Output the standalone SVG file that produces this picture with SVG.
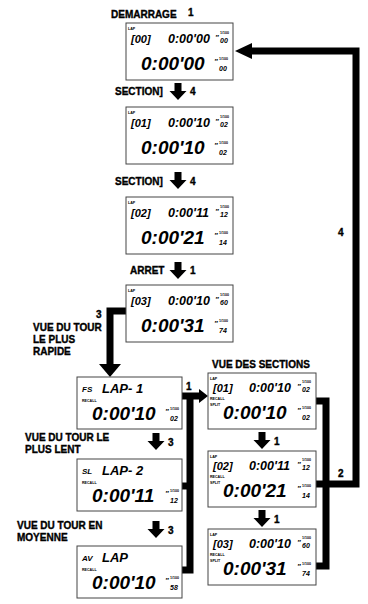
<svg xmlns="http://www.w3.org/2000/svg" width="368" height="604" viewBox="0 0 368 604">
<style>
.lbl{font-family:"Liberation Sans",Arial,sans-serif;font-weight:bold;font-size:10px;fill:#000;stroke:#000;stroke-width:0.35}
.box{fill:#fff;stroke:#444;stroke-width:1}
.lcd{font-family:"Liberation Sans",Arial,sans-serif;font-style:italic;font-weight:bold;fill:#000}
.s{font-size:12.5px}
.b{font-size:19px}
.m{font-size:7px}
.q{font-size:8px}
.t{font-family:"Liberation Sans",Arial,sans-serif;font-weight:bold;font-size:3.6px;fill:#000}
.br{font-size:11px}
.con{fill:none;stroke:#000;stroke-width:7;stroke-linejoin:miter}
.ah{fill:#000}
</style>
<defs>
<path id="down" d="M-3.5,0 H3.5 V8 H8.5 L0,17 L-8.5,8 H-3.5 Z"/>
</defs>

<g id="labels">
<text class="lbl" x="111" y="18">DEMARRAGE</text><text class="lbl" x="188" y="16">1</text>
<text class="lbl" x="115" y="95">SECTION]</text><text class="lbl" x="190" y="95">4</text>
<text class="lbl" x="115" y="185">SECTION]</text><text class="lbl" x="190" y="185">4</text>
<text class="lbl" x="130" y="274">ARRET</text><text class="lbl" x="190" y="274">1</text>
<text class="lbl" x="96" y="318">3</text>
<text class="lbl" x="33" y="331">VUE DU TOUR</text>
<text class="lbl" x="33" y="343">LE PLUS</text>
<text class="lbl" x="33" y="355">RAPIDE</text>
<text class="lbl" x="25" y="441">VUE DU TOUR LE</text>
<text class="lbl" x="25" y="453">PLUS LENT</text>
<text class="lbl" x="17" y="529">VUE DU TOUR EN</text>
<text class="lbl" x="17" y="541">MOYENNE</text>
<text class="lbl" x="168" y="446">3</text>
<text class="lbl" x="168" y="534">3</text>
<text class="lbl" x="212" y="368">VUE DES SECTIONS</text>
<text class="lbl" x="186" y="390">1</text>
<text class="lbl" x="274" y="445">1</text>
<text class="lbl" x="274" y="523">1</text>
<text class="lbl" x="338" y="236">4</text>
<text class="lbl" x="338" y="477">2</text>
</g>

<g id="connectors">
<use href="#down" x="178" y="83"/>
<use href="#down" x="178" y="172"/>
<use href="#down" x="178" y="262"/>
<use href="#down" x="156" y="433"/>
<use href="#down" x="156" y="521"/>
<use href="#down" x="262" y="432"/>
<use href="#down" x="262" y="510"/>
<polyline class="con" points="250,51 356,51 356,484 316,484"/>
<polygon class="ah" points="235,51 252,43 252,59"/>
<polyline class="con" points="316,401 326,401 326,566 316,566"/>
<polyline class="con" points="127,311 110,311 110,365"/>
<polygon class="ah" points="99,364 121,364 110,377"/>
<polyline class="con" points="182,396 201,396"/>
<polygon class="ah" points="199,389 208,396 199,403"/>
<polyline class="con" points="182,486 190,486"/>
<polyline class="con" points="182,570 190,570 190,396"/>
</g>

<g id="n-start" transform="translate(126,23)">
<rect class="box" width="107" height="57"/>
<text class="t" x="2" y="7">LAP</text>
<text class="lcd br" x="5" y="20">[00]</text>
<text class="lcd s" x="42" y="20">0:00'00</text>
<text class="lcd q" x="89" y="17">"</text><text class="t" x="94" y="11">1/100</text><text class="lcd m" x="94" y="20">00</text>
<text class="lcd b" x="15" y="47">0:00'00</text>
<text class="lcd q" x="88" y="41">"</text><text class="t" x="93" y="37">1/100</text><text class="lcd m" x="93" y="48">00</text>
</g>
<g id="n-sec1" transform="translate(126,107)">
<rect class="box" width="107" height="57"/>
<text class="t" x="2" y="7">LAP</text>
<text class="lcd br" x="5" y="20">[01]</text>
<text class="lcd s" x="42" y="20">0:00'10</text>
<text class="lcd q" x="89" y="17">"</text><text class="t" x="94" y="11">1/100</text><text class="lcd m" x="94" y="20">02</text>
<text class="lcd b" x="15" y="47">0:00'10</text>
<text class="lcd q" x="88" y="41">"</text><text class="t" x="93" y="37">1/100</text><text class="lcd m" x="93" y="48">02</text>
</g>
<g id="n-sec2" transform="translate(126,197)">
<rect class="box" width="107" height="57"/>
<text class="t" x="2" y="7">LAP</text>
<text class="lcd br" x="5" y="20">[02]</text>
<text class="lcd s" x="42" y="20">0:00'11</text>
<text class="lcd q" x="89" y="17">"</text><text class="t" x="94" y="11">1/100</text><text class="lcd m" x="94" y="20">12</text>
<text class="lcd b" x="15" y="47">0:00'21</text>
<text class="lcd q" x="88" y="41">"</text><text class="t" x="93" y="37">1/100</text><text class="lcd m" x="93" y="48">14</text>
</g>
<g id="n-stop" transform="translate(126,285)">
<rect class="box" width="107" height="57"/>
<text class="t" x="2" y="7">LAP</text>
<text class="lcd br" x="5" y="20">[03]</text>
<text class="lcd s" x="42" y="20">0:00'10</text>
<text class="lcd q" x="89" y="17">"</text><text class="t" x="94" y="11">1/100</text><text class="lcd m" x="94" y="20">60</text>
<text class="lcd b" x="15" y="47">0:00'31</text>
<text class="lcd q" x="88" y="41">"</text><text class="t" x="93" y="37">1/100</text><text class="lcd m" x="93" y="48">74</text>
</g>

<g id="n-fast" transform="translate(77,377)">
<rect class="box" width="105" height="52"/>
<text class="lcd" x="5" y="15" style="font-size:8px">FS</text>
<text class="lcd" x="25" y="16" style="font-size:13px">LAP- 1</text>
<text class="t" x="5" y="25">RECALL</text>
<text class="lcd b" x="15" y="43">0:00'10</text>
<text class="lcd q" x="88" y="37">"</text><text class="t" x="93" y="33">1/100</text><text class="lcd m" x="93" y="44">02</text>
</g>
<g id="n-slow" transform="translate(77,459)">
<rect class="box" width="105" height="52"/>
<text class="lcd" x="5" y="15" style="font-size:8px">SL</text>
<text class="lcd" x="25" y="16" style="font-size:13px">LAP- 2</text>
<text class="t" x="5" y="25">RECALL</text>
<text class="lcd b" x="15" y="43">0:00'11</text>
<text class="lcd q" x="88" y="37">"</text><text class="t" x="93" y="33">1/100</text><text class="lcd m" x="93" y="44">12</text>
</g>
<g id="n-avg" transform="translate(77,546)">
<rect class="box" width="105" height="52"/>
<text class="lcd" x="5" y="15" style="font-size:8px">AV</text>
<text class="lcd" x="25" y="16" style="font-size:13px">LAP</text>
<text class="t" x="5" y="25">RECALL</text>
<text class="lcd b" x="15" y="43">0:00'10</text>
<text class="lcd q" x="88" y="37">"</text><text class="t" x="93" y="33">1/100</text><text class="lcd m" x="93" y="44">58</text>
</g>

<g id="n-split1" transform="translate(208,373)">
<rect class="box" width="108" height="56"/>
<text class="t" x="2" y="7">LAP</text>
<text class="lcd br" x="5" y="19">[01]</text>
<text class="lcd s" x="41" y="19">0:00'10</text>
<text class="lcd q" x="89" y="16">"</text><text class="t" x="94" y="10">1/100</text><text class="lcd m" x="94" y="19">02</text>
<text class="t" x="2" y="27">RECALL</text><text class="t" x="2" y="33">SPLIT</text>
<text class="lcd b" x="15" y="46">0:00'10</text>
<text class="lcd q" x="89" y="40">"</text><text class="t" x="94" y="36">1/100</text><text class="lcd m" x="94" y="47">02</text>
</g>
<g id="n-split2" transform="translate(208,451)">
<rect class="box" width="108" height="56"/>
<text class="t" x="2" y="7">LAP</text>
<text class="lcd br" x="5" y="19">[02]</text>
<text class="lcd s" x="41" y="19">0:00'11</text>
<text class="lcd q" x="89" y="16">"</text><text class="t" x="94" y="10">1/100</text><text class="lcd m" x="94" y="19">12</text>
<text class="t" x="2" y="27">RECALL</text><text class="t" x="2" y="33">SPLIT</text>
<text class="lcd b" x="15" y="46">0:00'21</text>
<text class="lcd q" x="89" y="40">"</text><text class="t" x="94" y="36">1/100</text><text class="lcd m" x="94" y="47">14</text>
</g>
<g id="n-split3" transform="translate(208,529)">
<rect class="box" width="108" height="56"/>
<text class="t" x="2" y="7">LAP</text>
<text class="lcd br" x="5" y="19">[03]</text>
<text class="lcd s" x="41" y="19">0:00'10</text>
<text class="lcd q" x="89" y="16">"</text><text class="t" x="94" y="10">1/100</text><text class="lcd m" x="94" y="19">60</text>
<text class="t" x="2" y="27">RECALL</text><text class="t" x="2" y="33">SPLIT</text>
<text class="lcd b" x="15" y="46">0:00'31</text>
<text class="lcd q" x="89" y="40">"</text><text class="t" x="94" y="36">1/100</text><text class="lcd m" x="94" y="47">74</text>
</g>
</svg>
